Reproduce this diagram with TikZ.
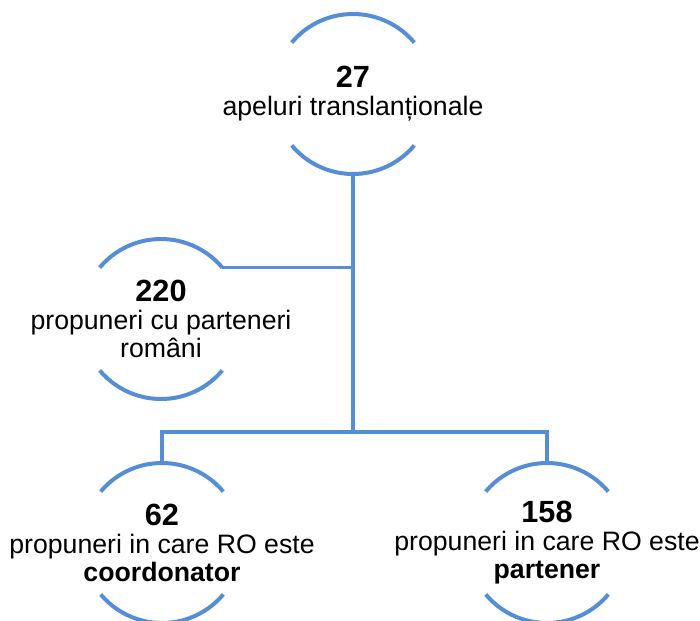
\documentclass[tikz,border=0pt]{standalone}
\usepackage{fontspec}
\setmainfont{Liberation Sans}
\usepackage{tikz}
\usetikzlibrary{calc,positioning}
\definecolor{ringBlue}{HTML}{558ED5}
\tikzset{
  ring/.style={draw=ringBlue, line width=3pt},
  link/.style={draw=ringBlue, line width=2.5pt},
  figtxt/.style={align=center, inner sep=0pt, font=\fontsize{20}{21}\selectfont}
}
\newcommand{\bignum}[1]{{\fontsize{23}{21}\selectfont\bfseries #1}}
% two open arcs round a centre
\newcommand{\ringarcs}[1]{%
  \draw[ring] ($(#1)+(40:60pt)$) arc[start angle=40, end angle=140, radius=60pt];
  \draw[ring] ($(#1)+(220:60pt)$) arc[start angle=220, end angle=320, radius=60pt];}

\begin{document}
\begin{tikzpicture}[x=0.75pt, y=-0.75pt]
  \useasboundingbox (0,0) rectangle (700,621);

  % --- centres of the rings
  \coordinate (c27)  at (353,94);
  \coordinate (c220) at (161,319);
  \coordinate (c62)  at (162,543);
  \coordinate (c158) at (547,543);
  \coordinate (split) at (353,432);

  % --- texts
  \node[figtxt] (t27)  at (c27)  {\bignum{27}\\apeluri translanționale};
  \node[figtxt] (t220) at (c220) {\bignum{220}\\propuneri cu parteneri\\români};
  \node[figtxt] (t62)  at (c62)  {\bignum{62}\\propuneri in care RO este\\\textbf{coordonator}};
  \node[figtxt] (t158) at (c158) {\bignum{158}\\propuneri in care RO este\\\textbf{partener}};

  % --- rings
  \ringarcs{c27}
  \ringarcs{c220}
  \ringarcs{c62}
  \ringarcs{c158}

  % --- connectors
  \coordinate (c220ne) at ($(c220)+(40:60pt)$);
  \draw[link] ($(c27)+(270:60pt)$) -- (split);
  \draw[link] (c220ne) -- (c220ne -| split);
  \draw[link] ($(c62)+(90:60pt)$) |- (split) -| ($(c158)+(90:60pt)$);
\end{tikzpicture}
\end{document}
